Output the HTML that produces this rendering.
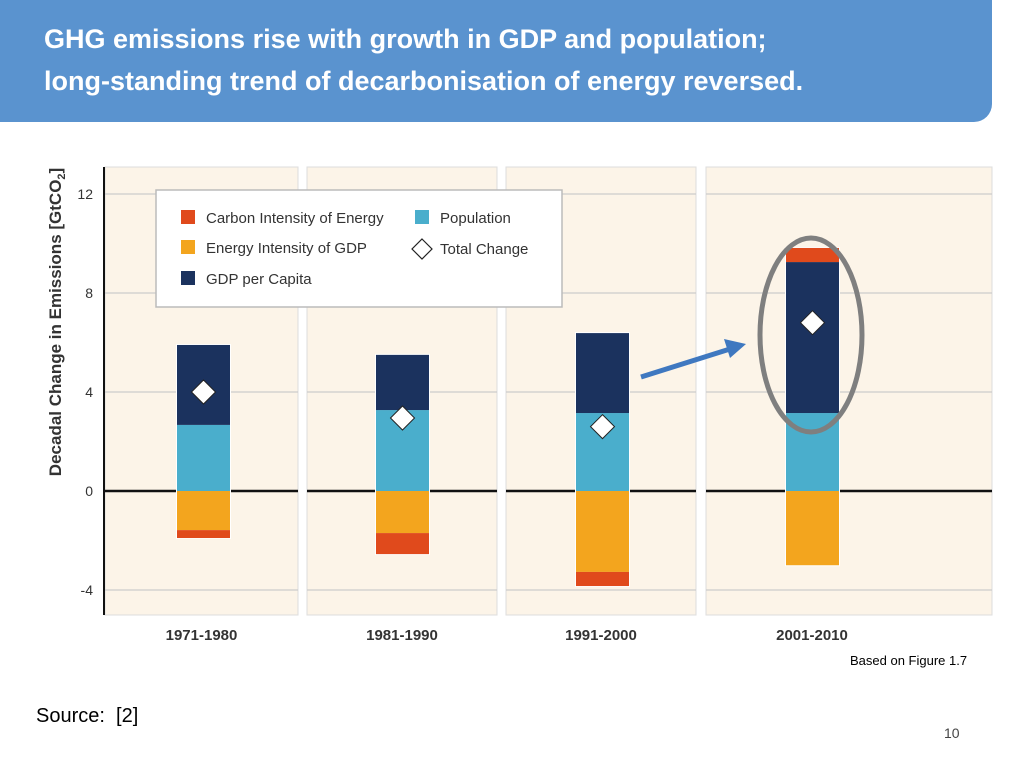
<!DOCTYPE html>
<html><head><meta charset="utf-8"><style>
body{margin:0;width:1024px;height:768px;background:#fff;overflow:hidden;font-family:"Liberation Sans",sans-serif;position:relative}
.hdr{position:absolute;left:0;top:0;width:992px;height:122px;background:#5a93cf;border-bottom-right-radius:18px}
.hdr h1{margin:0;position:absolute;left:44px;top:18px;color:#fff;font-size:27px;line-height:42px;font-weight:bold}
</style></head><body>
<div class="hdr"><h1>GHG emissions rise with growth in GDP and population;<br>long-standing trend of decarbonisation of energy reversed.</h1></div>
<svg id="chart" width="1024" height="768" style="position:absolute;left:0;top:0"></svg>
<div style="position:absolute;left:850px;top:653px;font-size:13px">Based on Figure 1.7</div>
<div style="position:absolute;left:36px;top:705px;font-size:20px">Source:&nbsp; [2]</div>
<div style="position:absolute;left:944px;top:725px;font-size:14px;color:#444">10</div>
<script>
const categories=["1971-1980","1981-1990","1991-2000","2001-2010"];
const population=[2.67,3.27,3.15,3.15];
const gdpPerCapita=[3.23,2.23,3.23,6.1];
const energyIntensity=[-1.58,-1.7,-3.27,-3.0];
const carbonIntensity=[-0.32,-0.85,-0.57,0.57];
const totalChange=[4.0,2.95,2.6,6.8];
const yTicks=[-4,0,4,8,12];
const NS="http://www.w3.org/2000/svg";
const svg=document.getElementById('chart');
const y=v=>491-v*24.75;
const panels=[[105,298],[307,497],[506,696],[706,992]];
const barX=i=>[177,376,576,786][i];
const BW=53;
function mk(t,a,p){const e=document.createElementNS(NS,t);for(const k in a)e.setAttribute(k,a[k]);(p||svg).appendChild(e);return e;}
panels.forEach((p,i)=>{
 const r=mk('rect',{x:p[0],y:167,width:p[1]-p[0],height:448,fill:'#fcf4e8',stroke:'#ddd','stroke-width':1});
 
 
 yTicks.forEach(t=>{if(t!==0){const l=mk('line',{x1:p[0],x2:p[1],y1:y(t),y2:y(t),stroke:'#ccc','stroke-width':1.2});
 
 }});
 const z=mk('line',{x1:p[0],x2:p[1],y1:y(0),y2:y(0),stroke:'#111','stroke-width':2.5});
 
 
 const tx=mk('text',{x:(p[0]+p[1])/2-(i==3?-8:0)-(i==3?0:0),y:640,'text-anchor':'middle','font-size':15,'font-weight':'bold',fill:'#333'});
 if(i==3)tx.setAttribute('x',812);
 tx.textContent=categories[i];
 
 
});
const ax=mk('line',{x1:104,x2:104,y1:167,y2:615,stroke:'#111','stroke-width':2});


yTicks.forEach(t=>{const e=mk('text',{x:93,y:y(t)+5,'text-anchor':'end','font-size':14,fill:'#333'});e.textContent=t;

});
const yt=mk('text',{transform:'translate(61,322) rotate(-90)','text-anchor':'middle','font-size':17,'font-weight':'bold',fill:'#333'});
yt.innerHTML='Decadal Change in Emissions [GtCO<tspan font-size="11" dy="4">2</tspan><tspan dy="-4">]</tspan>';


function seg(i,a,b,c,n){const r=mk('rect',{x:barX(i),y:y(Math.max(a,b)),width:BW,height:Math.abs(b-a)*24.75,fill:c});

}
categories.forEach((c,i)=>{
 mk('rect',{x:barX(i)-1,y:y(population[i]+gdpPerCapita[i]+Math.max(0,carbonIntensity[i]))-1,width:BW+2,height:(population[i]+gdpPerCapita[i]+Math.max(0,carbonIntensity[i])-energyIntensity[i]-Math.min(0,carbonIntensity[i]))*24.75+2,fill:'#fff'});
 seg(i,0,population[i],'#4aaecc','bar-population');
 seg(i,population[i],population[i]+gdpPerCapita[i],'#1b325e','bar-gdp-per-capita');
 seg(i,0,energyIntensity[i],'#f3a51e','bar-energy-intensity');
 if(carbonIntensity[i]<0)seg(i,energyIntensity[i],energyIntensity[i]+carbonIntensity[i],'#e04a1c','bar-carbon-intensity');
 else seg(i,population[i]+gdpPerCapita[i],population[i]+gdpPerCapita[i]+carbonIntensity[i],'#e04a1c','bar-carbon-intensity');
 const cx=barX(i)+BW/2,cy=y(totalChange[i]);
 const d=mk('polygon',{points:`${cx},${cy-12} ${cx+12},${cy} ${cx},${cy+12} ${cx-12},${cy}`,fill:'#fff',stroke:'#222','stroke-width':1});
 
 
});
// legend
const lg=mk('g',{});


mk('rect',{x:156,y:190,width:406,height:117,fill:'#fff',stroke:'#bbb','stroke-width':1.5},lg);
const items=[[181,218,'#e04a1c','Carbon Intensity of Energy'],[181,248,'#f3a51e','Energy Intensity of GDP'],[181,279,'#1b325e','GDP per Capita'],[415,218,'#4aaecc','Population']];
items.forEach(it=>{mk('rect',{x:it[0],y:it[1]-8,width:14,height:14,fill:it[2]},lg);const t=mk('text',{x:it[0]+25,y:it[1]+5,'font-size':15,fill:'#333'},lg);t.textContent=it[3];

});
mk('polygon',{points:'422,239 432,249 422,259 412,249',fill:'#fff',stroke:'#222','stroke-width':1.2},lg);
const tt=mk('text',{x:440,y:254,'font-size':15,fill:'#333'},lg);tt.textContent='Total Change';
// annotations
const ar=mk('g',{});


mk('line',{x1:641,y1:377,x2:730,y2:349,stroke:'#3f78c0','stroke-width':5},ar);
mk('polygon',{points:'746,344 724,339 730,358',fill:'#3f78c0'},ar);
const el=mk('ellipse',{cx:811,cy:335,rx:51,ry:97,fill:'none',stroke:'#7f7f7f','stroke-width':5});


</script>
</body></html>
